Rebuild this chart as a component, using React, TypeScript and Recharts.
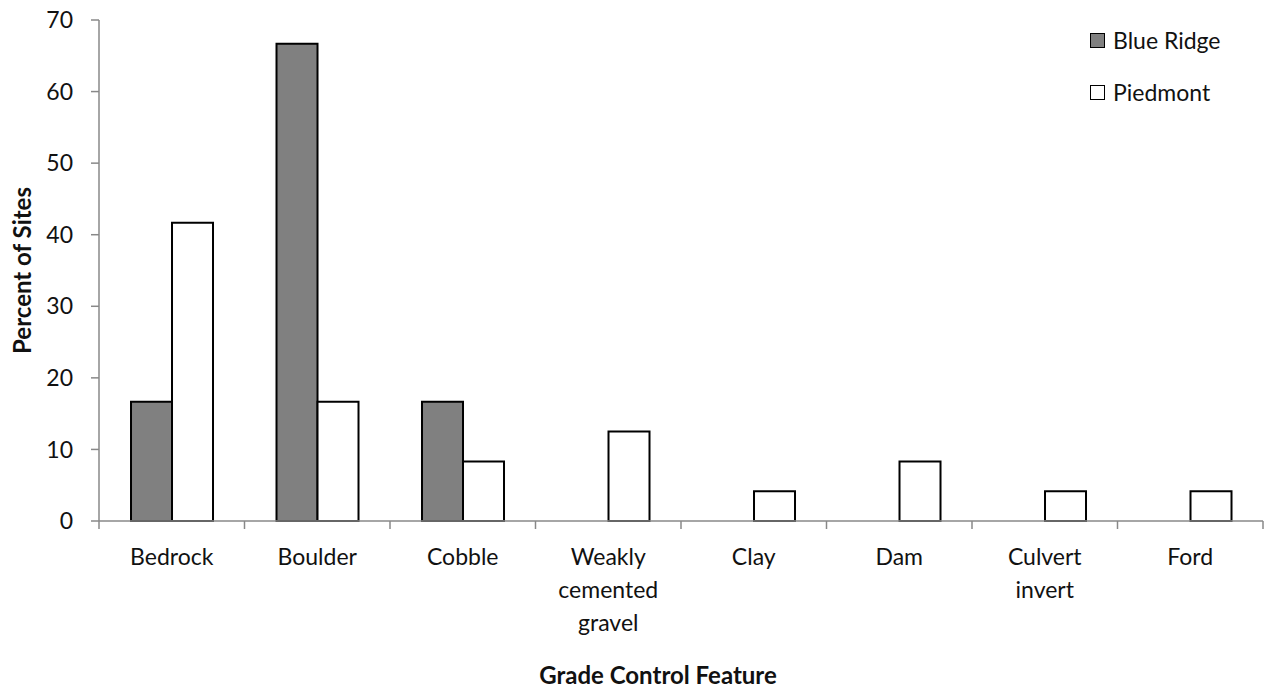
import React from "react";
import { BarChart, Bar, XAxis, YAxis } from "recharts";

const categories = ["Bedrock", "Boulder", "Cobble", "Weakly cemented gravel", "Clay", "Dam", "Culvert invert", "Ford"];
const tickLines: string[][] = [["Bedrock"], ["Boulder"], ["Cobble"], ["Weakly", "cemented", "gravel"], ["Clay"], ["Dam"], ["Culvert", "invert"], ["Ford"]];
const blueRidge = [16.67, 66.67, 16.67, 0, 0, 0, 0, 0];
const piedmont = [41.67, 16.67, 8.33, 12.5, 4.17, 8.33, 4.17, 4.17];
const yTicks = [0, 10, 20, 30, 40, 50, 60, 70];
const seriesNames = ["Blue Ridge", "Piedmont"];
const seriesFills = ["#808080", "#ffffff"];

const data = categories.map((c, i) => ({ name: c, blueRidge: blueRidge[i], piedmont: piedmont[i] }));

const FONT = "Lato, 'Open Sans', sans-serif";
const AXIS = "#888888";

const XTick = (props: any) => {
  const { x, y, payload } = props;
  const idx = categories.indexOf(payload.value);
  const lines = tickLines[idx] || [payload.value];
  const half = payload.offset || 0;
  const isLast = idx === categories.length - 1;
  return (
    <g>
      <line x1={x - half} x2={x - half} y1={y} y2={y + 8} stroke={AXIS} strokeWidth={1.5} />
      {isLast && <line x1={x + half} x2={x + half} y1={y} y2={y + 8} stroke={AXIS} strokeWidth={1.5} />}
      <text x={x} y={y + 44} textAnchor="middle" fontFamily={FONT} fontSize={23} fill="#111">
        {lines.map((l, i) => (
          <tspan key={i} x={x} dy={i === 0 ? 0 : 33}>{l}</tspan>
        ))}
      </text>
    </g>
  );
};

const LegendBox = () => (
  <div style={{ position: "absolute", left: 1090, top: 14, fontFamily: FONT, fontSize: 23, color: "#111" }}>
    {seriesNames.map((label, i) => (
      <div key={i} style={{ display: "flex", alignItems: "center", height: 52 }}>
        <div style={{ width: 13, height: 13, background: seriesFills[i], border: "1.5px solid #000", marginRight: 8 }} />
        <span>{label}</span>
      </div>
    ))}
  </div>
);

export default function App() {
  return (
    <div style={{ position: "absolute", left: 0, top: 0, width: 1268, height: 692, background: "#fff" }}>
      <BarChart
        width={1268}
        height={692}
        data={data}
        margin={{ top: 20, right: 5, left: 0, bottom: 0 }}
        barCategoryGap="22%"
        barGap={0}
      >
        <XAxis
          dataKey="name"
          height={171}
          tickSize={0}
          tickMargin={0}
          tickLine={false}
          axisLine={{ stroke: AXIS, strokeWidth: 1.5 }}
          tick={<XTick />}
          interval={0}
          label={{
            content: (p: any) => {
              const vb = p.viewBox;
              return (
                <text x={658} y={vb.y + 163} textAnchor="middle" fontFamily={FONT} fontWeight="bold" fontSize={24} fill="#111">
                  Grade Control Feature
                </text>
              );
            },
          }}
        />
        <YAxis
          width={99}
          domain={[0, 70]}
          ticks={yTicks}
          interval={0}
          tickSize={8}
          tickMargin={18}
          tick={{ fontFamily: FONT, fontSize: 23, fill: "#111" }}
          tickLine={{ stroke: AXIS, strokeWidth: 1.5 }}
          axisLine={{ stroke: AXIS, strokeWidth: 1.5 }}
          label={{
            content: (p: any) => {
              const vb = p.viewBox;
              const cy = vb.y + vb.height / 2;
              return (
                <text x={31} y={cy} transform={`rotate(-90, 31, ${cy})`} textAnchor="middle" fontFamily={FONT} fontWeight="bold" fontSize={24} fill="#111">
                  Percent of Sites
                </text>
              );
            },
          }}
        />
        <Bar dataKey="blueRidge" name={seriesNames[0]} fill={seriesFills[0]} stroke="#000" strokeWidth={2} isAnimationActive={false} />
        <Bar dataKey="piedmont" name={seriesNames[1]} fill={seriesFills[1]} stroke="#000" strokeWidth={2} isAnimationActive={false} />
      </BarChart>
      <LegendBox />
    </div>
  );
}
